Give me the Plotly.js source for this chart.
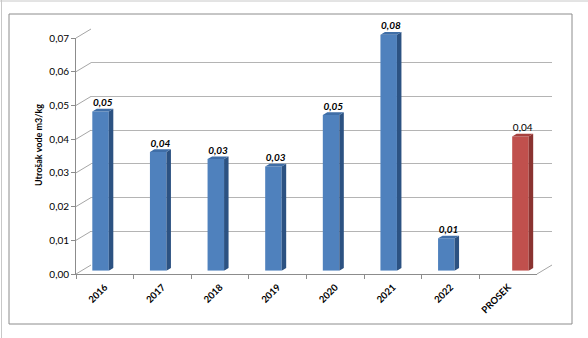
<!DOCTYPE html>
<html><head><meta charset="utf-8">
<script src="https://cdn.plot.ly/plotly-3.0.1.min.js"></script>
<style>html,body{margin:0;padding:0;background:#fff}#chart{width:588px;height:338px}</style>
</head><body><div id="chart"></div>
<script>
// ---- data ----
const categories = ['2016','2017','2018','2019','2020','2021','2022','PROSEK'];
const consumption = [0.0472, 0.0352, 0.0331, 0.0309, 0.0462, 0.0760, 0.0096, null];
const average = [null, null, null, null, null, null, null, 0.0398];
const yTickValues = [0, 0.01, 0.02, 0.03, 0.04, 0.05, 0.06, 0.07];
const yAxisTitle = 'Utrošak vode m3/kg';
const yMax = 0.07;

// ---- geometry (pixels) ----
const W = 588, H = 338;
const FX0 = 76, FX1 = 537, FY0 = 274, FY1 = 38;   // front axis box
const DX = 15, DY = 9;                            // back wall offset
const BAR_SHIFT_X = 4, BAR_SHIFT_Y = 3.3;         // bar front face depth
const pxPerCat = (FX1 - FX0) / categories.length;
const pxPerUnit = (FY0 - FY1) / yMax;
const barW = 16.5 / pxPerCat;
const sdx = 4.5 / pxPerCat, sdy = 2.7 / pxPerUnit;
const barYMax = 0.075;
const FONT = 'Lato, "Liberation Sans", sans-serif';

const px = x => x / W;
const py = y => 1 - y / H;
const fmt = v => v.toFixed(2).replace('.', ',');
const idx = categories.map((c, i) => i);

function faces(values, offset) {
  const side = {x: [], y: []}, top = {x: [], y: []}, lab = {x: [], y: [], t: []};
  values.forEach((v, i) => {
    if (v == null) return;
    const t = Math.min(v, yMax), L = i + offset, R = L + barW;
    side.x.push(R, R + sdx, R + sdx, R, R, null);
    side.y.push(0, sdy, t + sdy, t, 0, null);
    top.x.push(L, R, R + sdx, L + sdx, L, null);
    top.y.push(t, t, t + sdy, t + sdy, t, null);
    lab.x.push(L + barW / 2 + sdx / 2); lab.y.push(t + sdy); lab.t.push(fmt(v));
  });
  return {side, top, lab};
}

function series(values, offset, cFront, cTop, cSide, labelFont) {
  const f = faces(values, offset);
  const common = {xaxis: 'x3', yaxis: 'y3', hoverinfo: 'skip', showlegend: false};
  return [
    Object.assign({type: 'bar', x: idx, y: values.map(v => v == null ? null : Math.min(v, yMax)),
      width: barW, offset: offset, marker: {color: cFront, line: {width: 0}}}, common),
    Object.assign({type: 'scatter', mode: 'lines', x: f.side.x, y: f.side.y, fill: 'toself',
      fillcolor: cSide, line: {width: 0, color: cSide}}, common),
    Object.assign({type: 'scatter', mode: 'lines', x: f.top.x, y: f.top.y, fill: 'toself',
      fillcolor: cTop, line: {width: 0, color: cTop}}, common),
    Object.assign({type: 'scatter', mode: 'text', x: f.lab.x, y: f.lab.y, text: f.lab.t,
      textposition: 'top center', textfont: labelFont, cliponaxis: false}, common)
  ];
}

const traces = [
  {type: 'scatter', mode: 'markers', x: categories, y: categories.map(() => 0), marker: {opacity: 0},
   xaxis: 'x', yaxis: 'y', hoverinfo: 'skip', showlegend: false},
  {type: 'scatter', mode: 'markers', x: [0], y: [0], marker: {opacity: 0},
   xaxis: 'x2', yaxis: 'y2', hoverinfo: 'skip', showlegend: false},
  ...series(consumption, -barW, '#4f81bd', '#3f6ea7', '#2c5282',
    {family: FONT, size: 10, color: '#000', weight: 'bold', style: 'italic'}),
  ...series(average, 0, '#c0504d', '#a6413e', '#8a3330',
    {family: FONT, size: 10, color: '#000'})
];

// decorative 3D frame lines
const shapes = [];
yTickValues.forEach(v => {
  const yf = FY0 - v * pxPerUnit;
  shapes.push({type: 'line', xref: 'paper', yref: 'paper',
    x0: px(FX0), y0: py(yf), x1: px(FX0 + DX), y1: py(yf - DY), line: {color: '#a6a6a6', width: 1}});
});
shapes.push({type: 'line', xref: 'paper', yref: 'paper',
  x0: px(FX1), y0: py(FY0), x1: px(FX1 + DX), y1: py(FY0 - DY), line: {color: '#a6a6a6', width: 1}});
shapes.push({type: 'rect', xref: 'paper', yref: 'paper', x0: px(9), y0: py(14), x1: px(572), y1: py(324),
  line: {color: '#8c8c8c', width: 1}, fillcolor: 'rgba(0,0,0,0)'});
shapes.push({type: 'line', xref: 'paper', yref: 'paper', x0: 0, y0: py(1), x1: 1, y1: py(1), line: {color: '#c8c8c8', width: 1}});
shapes.push({type: 'line', xref: 'paper', yref: 'paper', x0: px(1.5), y0: 0, x1: px(1.5), y1: 1, line: {color: '#c8c8c8', width: 1}});

const layout = {
  width: W, height: H, margin: {l: 0, r: 0, t: 0, b: 0},
  paper_bgcolor: '#fff', plot_bgcolor: 'rgba(0,0,0,0)',
  separators: ',.', showlegend: false, barmode: 'overlay',
  font: {family: FONT, size: 10, color: '#000'},
  xaxis: {domain: [px(FX0), px(FX1)], type: 'category', categoryarray: categories, range: [-0.5, 7.5],
    showline: true, linecolor: '#8c8c8c', linewidth: 1, ticks: 'outside', ticklen: 4, tickcolor: '#8c8c8c',
    tickson: 'boundaries', showgrid: false, tickangle: -45, fixedrange: true, ticklabelstandoff: 3,
    tickfont: {family: FONT, size: 9.5, weight: 'bold', color: '#000'}},
  yaxis: {domain: [py(FY0), py(FY1)], range: [0, yMax], tickvals: yTickValues, tickformat: '.2f',
    showline: true, linecolor: '#8c8c8c', linewidth: 1, ticks: 'outside', ticklen: 4, tickcolor: '#8c8c8c',
    showgrid: false, zeroline: false, fixedrange: true, tickfont: {family: FONT, size: 10, color: '#000'}},
  xaxis2: {domain: [px(FX0 + DX), px(FX1 + DX)], range: [0, 1], visible: false},
  yaxis2: {domain: [py(FY0 - DY), py(FY1 - DY)], range: [-0.00001, yMax + 0.00001], tickvals: yTickValues,
    showgrid: true, gridcolor: '#b4b4b4', gridwidth: 1, zeroline: false, showticklabels: false,
    ticks: '', showline: false},
  xaxis3: {domain: [px(FX0 + BAR_SHIFT_X), px(FX1 + BAR_SHIFT_X)], range: [-0.5, 7.5], visible: false},
  yaxis3: {domain: [py(FY0 - BAR_SHIFT_Y), py(FY0 - BAR_SHIFT_Y - barYMax * pxPerUnit)], range: [0, barYMax], visible: false},
  shapes: shapes,
  annotations: [{text: yAxisTitle, xref: 'paper', yref: 'paper', x: px(38), y: py(145),
    xanchor: 'center', yanchor: 'middle', textangle: -90, showarrow: false,
    font: {family: FONT, size: 9, weight: 'bold', color: '#000'}}]
};

Plotly.newPlot('chart', traces, layout, {staticPlot: true, displayModeBar: false});
</script></body></html>
